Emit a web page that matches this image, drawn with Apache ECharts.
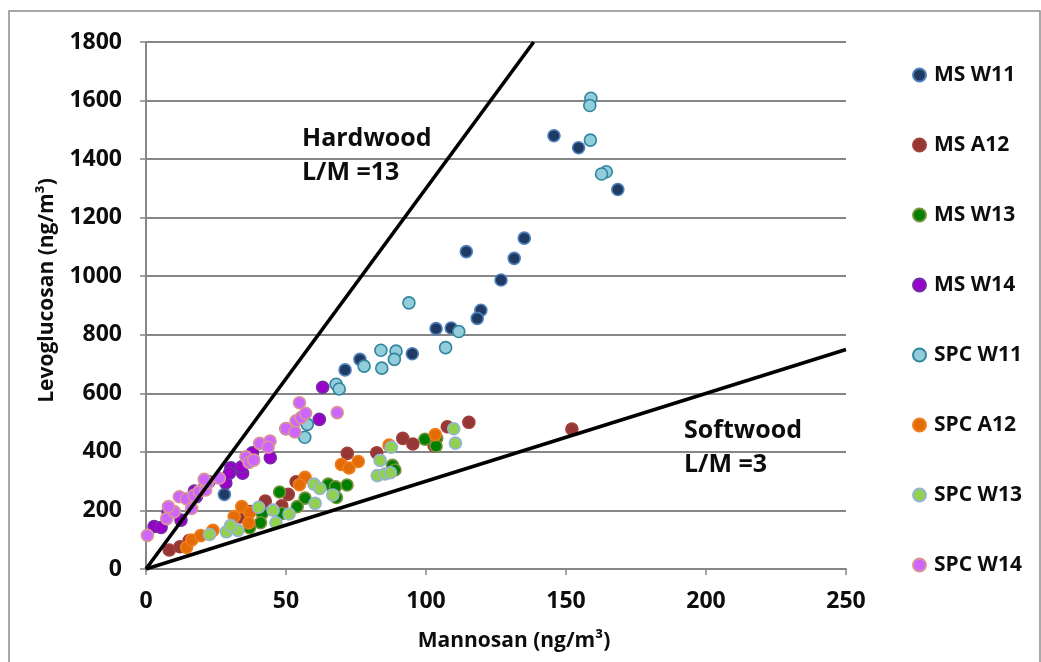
<!DOCTYPE html>
<html>
<head>
<meta charset="utf-8">
<script src="https://cdn.jsdelivr.net/npm/echarts@6/dist/echarts.min.js"></script>
<style>
  html, body { margin: 0; padding: 0; background: #fff; }
  #chart { width: 1041px; height: 662px; }
</style>
</head>
<body>
<div id="chart"></div>
<script>
// Mannosan (x) vs levoglucosan (y), ng/m3, per site and campaign
const msW11 = [[145.7,1480],[154.5,1439],[168.5,1296],[135.1,1130],[131.5,1061],[126.8,987],[119.6,884],[118.3,856],[114.4,1084],[109.0,823],[103.6,821],[95.1,735],[76.4,716],[71.1,680],[28.0,255]];
const msA12 = [[71.9,395],[82.4,397],[91.7,446],[95.3,427],[107.6,486],[115.3,501],[102.9,421],[50.8,255],[42.6,232],[48.5,216],[53.6,298],[8.3,65],[12.1,76],[15.4,97],[37.1,196],[152.1,478],[33.6,178]];
const msW13 = [[47.7,263],[56.8,242],[54.0,213],[65.1,290],[67.7,281],[68.0,244],[71.8,287],[88.0,354],[88.9,338],[99.6,443],[103.8,446],[103.6,420],[48.6,190],[41.5,190],[40.9,158],[37.0,141]];
const msW14 = [[63.1,621],[61.9,511],[44.4,380],[38.0,397],[50.0,479],[2.9,145],[5.4,142],[12.5,167],[17.3,266],[18.0,247],[21.0,281],[22.5,298],[28.5,294],[30.3,346],[29.8,327],[34.5,327],[34.2,349],[7.9,195]];
const spcW11 = [[158.9,1608],[158.5,1583],[158.7,1465],[164.4,1357],[162.7,1349],[93.9,909],[111.7,811],[107.0,756],[83.9,747],[89.3,744],[88.7,716],[77.9,693],[84.2,686],[67.9,631],[69.0,615],[57.6,494],[56.7,450]];
const spcA12 = [[56.8,313],[54.8,288],[69.8,357],[72.5,345],[75.8,367],[103.3,459],[86.8,423],[34.2,213],[37.0,192],[36.7,157],[14.5,74],[16.3,99],[19.5,114],[23.9,132],[31.5,179]];
const spcW13 = [[60.0,290],[62.1,275],[60.4,224],[66.7,253],[87.6,416],[83.6,371],[82.6,319],[85.4,325],[87.3,329],[109.9,479],[110.5,430],[40.2,211],[45.4,201],[51.1,188],[46.4,158],[22.7,118],[28.7,127],[32.8,132],[30.2,148]];
const spcW14 = [[0.5,115],[7.4,172],[10.1,196],[8.0,213],[11.9,247],[14.4,240],[17.1,252],[16.3,207],[19.0,265],[21.3,270],[22.0,295],[20.8,306],[26.2,310],[35.7,383],[36.8,364],[38.5,372],[40.6,429],[44.3,437],[43.6,416],[50.0,480],[53.2,468],[53.6,506],[55.4,517],[57.0,532],[54.8,568],[68.3,534]];

const seriesNames = ['MS W11','MS A12','MS W13','MS W14','SPC W11','SPC A12','SPC W13','SPC W14'];
const seriesData = [msW11, msA12, msW13, msW14, spcW11, spcA12, spcW13, spcW14];
const fillColors = ['#1F3A63','#953735','#008000','#9900CC','#92CDDC','#E36C09','#92D050','#CC66FF'];
const edgeColors = ['#4F81BD','#A33F3C','#77933C','#7030A0','#31859C','#F07D1A','#95B3D7','#D99594'];

// Reference L/M ratios
const hardwoodRatio = 13;
const softwoodRatio = 3;
const xTicks = [0, 250, 50];     // min, max, step
const yTicks = [0, 1800, 200];

const font = '"Open Sans", "Noto Sans", sans-serif';
const ink = '#0d0d0d';
const chart = echarts.init(document.getElementById('chart'));

const scatter = seriesNames.map((name, i) => ({
  name, type: 'scatter', data: seriesData[i], symbol: 'circle', symbolSize: 12,
  itemStyle: { color: fillColors[i], borderColor: edgeColors[i], borderWidth: 1.6, opacity: 1 },
  emphasis: { disabled: true }
}));

const ratioLine = (r) => {
  const xEnd = Math.min(xTicks[1], yTicks[1] / r);
  return {
    type: 'line', data: [[0, 0], [xEnd, xEnd * r]], symbol: 'none', silent: true,
    lineStyle: { color: '#000', width: 3.6 }, z: 3
  };
};

const nameText = { fontFamily: font, fontWeight: 'bold', fontSize: 21, color: ink };
const tickText = { fontFamily: font, fontWeight: 'bold', fontSize: 23, color: ink };

chart.setOption({
  animation: false,
  backgroundColor: '#fff',
  grid: { left: 146, right: 195, top: 42, bottom: 93, containLabel: false },
  xAxis: {
    type: 'value', min: xTicks[0], max: xTicks[1], interval: xTicks[2],
    name: 'Mannosan (ng/m³)', nameLocation: 'middle', nameGap: 62,
    nameTextStyle: { ...nameText, padding: [0, 0, 0, 36] },
    axisLine: { lineStyle: { color: '#868686', width: 2 } },
    axisTick: { show: true, length: 6, lineStyle: { color: '#868686', width: 1.5 } },
    axisLabel: { margin: 21, ...tickText, formatter: v => String(v) },
    splitLine: { show: false }
  },
  yAxis: {
    type: 'value', min: yTicks[0], max: yTicks[1], interval: yTicks[2],
    name: 'Levoglucosan (ng/m³)', nameLocation: 'middle', nameGap: 88, nameRotate: 90,
    nameTextStyle: { ...nameText, padding: [0, 0, 0, 30] },
    axisLine: { show: true, lineStyle: { color: '#868686', width: 2 } },
    axisTick: { show: true, length: 6, lineStyle: { color: '#868686', width: 1.5 } },
    axisLabel: { margin: 24, ...tickText, formatter: v => String(v) },
    splitLine: { lineStyle: { color: '#868686', width: 2 } }
  },
  legend: {
    data: seriesNames, orient: 'vertical', left: 907, top: 58,
    icon: 'circle', itemWidth: 13, itemHeight: 13, itemGap: 46,
    textStyle: { ...nameText, lineHeight: 24, padding: [0, 0, 0, 3] }
  },
  graphic: [
    { type: 'rect', shape: { x: 9, y: 11, width: 1031, height: 700 }, style: { fill: null, stroke: '#8c8c8c', lineWidth: 1.5 }, silent: true, z: -1 },
    { type: 'text', left: 302, top: 122, style: { text: 'Hardwood\nL/M =13', fontFamily: font, fontWeight: 'bold', fontSize: 25, lineHeight: 34, fill: ink } },
    { type: 'text', left: 684, top: 414, style: { text: 'Softwood\nL/M =3', fontFamily: font, fontWeight: 'bold', fontSize: 25, lineHeight: 34, fill: ink } }
  ],
  series: [...scatter, ratioLine(hardwoodRatio), ratioLine(softwoodRatio)]
});
</script>
</body>
</html>
